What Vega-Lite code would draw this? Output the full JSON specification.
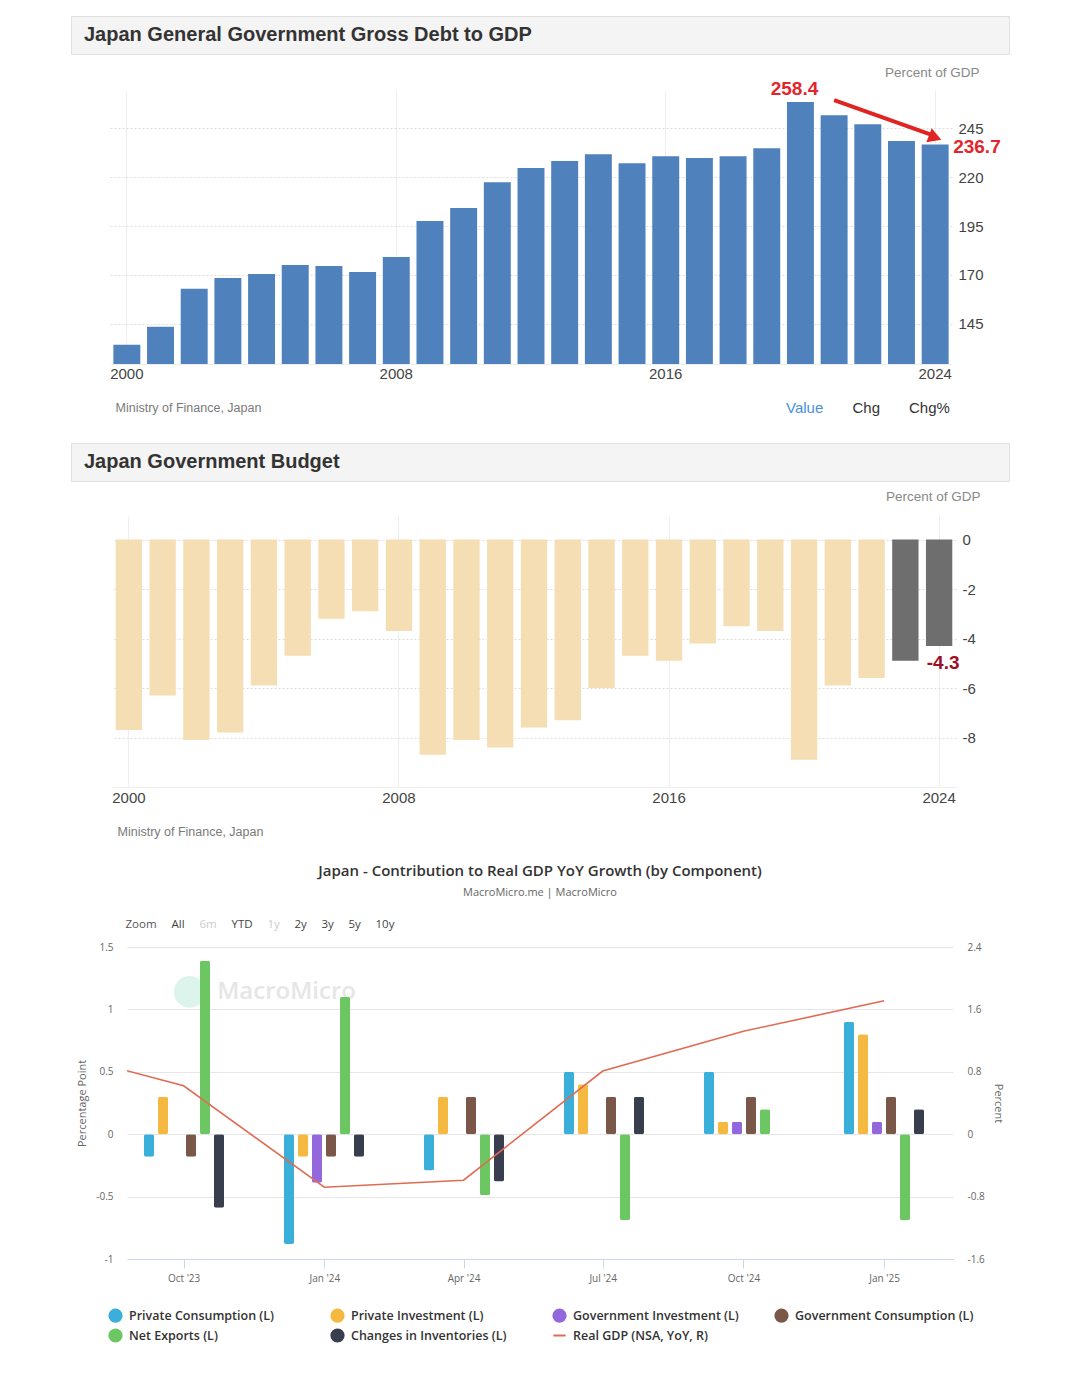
{
"$schema": "https://vega.github.io/schema/vega-lite/v6.json",
"background": "#ffffff",
"padding": {"left": 70, "top": 15, "right": 0, "bottom": 0},
"config": {"view": {"stroke": null}, "font": "Liberation Sans", "axis": {"labelFont": "Liberation Sans", "titleFont": "Liberation Sans"}},
"spacing": 26,
"resolve": {"scale": {"color": "independent", "shape": "independent", "strokeDash": "independent"}, "legend": {"color": "independent", "shape": "independent", "strokeDash": "independent"}},
"vconcat": [
 {"spacing": 10,
  "resolve": {"scale": {"color": "independent", "shape": "independent", "strokeDash": "independent"}, "legend": {"color": "independent", "shape": "independent", "strokeDash": "independent"}},
  "vconcat": [
   {"width": 938, "height": 38, "view": {"fill": "#f4f4f4", "stroke": "#e0e0e0"},
    "data": {"values": [{"title": "Japan General Government Gross Debt to GDP"}]},
    "mark": {"type": "text", "align": "left", "baseline": "middle", "dx": 13, "font": "Liberation Sans", "fontSize": 20, "fontWeight": "bold", "color": "#333333"},
    "encoding": {"x": {"field": "title", "type": "nominal", "scale": {"type": "point", "padding": 0, "align": 0}, "axis": null}, "text": {"field": "title"}}},
   {"spacing": 0,
    "resolve": {"scale": {"color": "independent", "shape": "independent", "strokeDash": "independent"}, "legend": {"color": "independent", "shape": "independent", "strokeDash": "independent"}},
    "hconcat": [
     {"width": 38, "height": 10, "data": {"values": [{}]}, "mark": {"type": "text", "text": ""}},
     {"width": 842, "height": 274,
      "layer": [
       {"data": {"values": [
         {"year": 2000, "value": 134.3}, {"year": 2001, "value": 143.5}, {"year": 2002, "value": 162.9}, {"year": 2003, "value": 168.5}, {"year": 2004, "value": 170.5},
         {"year": 2005, "value": 175.1}, {"year": 2006, "value": 174.6}, {"year": 2007, "value": 171.5}, {"year": 2008, "value": 179.2}, {"year": 2009, "value": 197.6},
         {"year": 2010, "value": 204.2}, {"year": 2011, "value": 217.4}, {"year": 2012, "value": 224.6}, {"year": 2013, "value": 228.2}, {"year": 2014, "value": 231.7},
         {"year": 2015, "value": 227.1}, {"year": 2016, "value": 230.7}, {"year": 2017, "value": 229.7}, {"year": 2018, "value": 230.7}, {"year": 2019, "value": 234.8},
         {"year": 2020, "value": 258.4}, {"year": 2021, "value": 251.6}, {"year": 2022, "value": 247.0}, {"year": 2023, "value": 238.4}, {"year": 2024, "value": 236.7}]},
        "mark": {"type": "bar", "color": "#4f81bd", "clip": true},
        "encoding": {
          "x": {"field": "year", "type": "ordinal", "scale": {"paddingInner": 0.2, "paddingOuter": 0.1},
            "axis": {"values": [2000, 2008, 2016, 2024], "labelAngle": 0, "labelFontSize": 15, "labelColor": "#444444", "labelPadding": 2, "ticks": false, "domain": true, "domainColor": "#eeeeee", "grid": true, "gridColor": "#eeeeee",
              "title": "Ministry of Finance, Japan", "titleAnchor": "start", "titleAlign": "left", "titleX": 5, "titleY": 43, "titleBaseline": "middle", "titleFontSize": 12.5, "titleFontWeight": "normal", "titleColor": "#7a7a7a"}},
          "y": {"field": "value", "type": "quantitative", "scale": {"domain": [124.5, 264.5], "zero": false, "nice": false},
            "axis": {"orient": "right", "values": [145, 170, 195, 220, 245], "labelExpr": "'' + datum.value", "labelFontSize": 15, "labelColor": "#444444", "labelPadding": 6, "ticks": false, "domain": false, "grid": true, "gridColor": "#dddddd", "gridDash": [2, 2],
              "title": "Percent of GDP", "titleAngle": 0, "titleAlign": "right", "titleX": 27, "titleY": -18, "titleBaseline": "middle", "titleFontSize": 13.5, "titleFontWeight": "normal", "titleColor": "#888888"}}
        }},
       {"data": {"values": [{"from_year": 2021, "to_year": 2024, "from_value": 259.3, "to_value": 240.9}]},
        "mark": {"type": "rule", "color": "#e02424", "strokeWidth": 4},
        "encoding": {"x": {"field": "from_year", "type": "ordinal"}, "x2": {"field": "to_year"}, "y": {"field": "from_value", "type": "quantitative"}, "y2": {"field": "to_value"}}},
       {"data": {"values": [{"year": 2024, "value": 240.2}]},
        "mark": {"type": "point", "shape": "triangle-right", "filled": true, "color": "#e02424", "size": 230, "angle": 20.5, "opacity": 1},
        "encoding": {"x": {"field": "year", "type": "ordinal"}, "y": {"field": "value", "type": "quantitative"}}},
       {"data": {"values": [{"year": 2020, "value": 258.4, "label": "258.4"}]},
        "mark": {"type": "text", "color": "#e3262b", "font": "Liberation Sans", "fontSize": 19, "fontWeight": "bold", "align": "center", "baseline": "bottom", "dy": -3, "dx": -6},
        "encoding": {"x": {"field": "year", "type": "ordinal"}, "y": {"field": "value", "type": "quantitative"}, "text": {"field": "label"}}},
       {"data": {"values": [{"year": 2024, "value": 236.7, "label": "236.7"}]},
        "mark": {"type": "text", "color": "#e3262b", "font": "Liberation Sans", "fontSize": 19, "fontWeight": "bold", "align": "left", "baseline": "middle", "dy": 3, "dx": 18},
        "encoding": {"x": {"field": "year", "type": "ordinal"}, "y": {"field": "value", "type": "quantitative"}, "text": {"field": "label"}}},
       {"data": {"values": [{"tab": "Value"}, {"tab": "Chg"}, {"tab": "Chg%"}]},
        "mark": {"type": "point", "opacity": 0},
        "encoding": {"shape": {"field": "tab", "type": "nominal", "sort": ["Value", "Chg", "Chg%"],
          "legend": {"orient": "none", "legendX": 661, "legendY": 310, "direction": "horizontal", "title": null, "symbolOpacity": 0, "symbolSize": 0, "labelOffset": 0, "labelFont": "Liberation Sans", "labelFontSize": 15, "columnPadding": 13.5, "gridAlign": "each",
            "labelColor": {"expr": "datum.label === 'Value' ? '#4a90d9' : '#333333'"}}}}}
      ]}
   ]}
 ]},
 {"spacing": 7,
  "resolve": {"scale": {"color": "independent", "shape": "independent", "strokeDash": "independent"}, "legend": {"color": "independent", "shape": "independent", "strokeDash": "independent"}},
  "vconcat": [
   {"width": 938, "height": 38, "view": {"fill": "#f4f4f4", "stroke": "#e0e0e0"},
    "data": {"values": [{"title": "Japan Government Budget"}]},
    "mark": {"type": "text", "align": "left", "baseline": "middle", "dx": 13, "font": "Liberation Sans", "fontSize": 20, "fontWeight": "bold", "color": "#333333"},
    "encoding": {"x": {"field": "title", "type": "nominal", "scale": {"type": "point", "padding": 0, "align": 0}, "axis": null}, "text": {"field": "title"}}},
   {"spacing": 0, "hconcat": [
     {"width": 40, "height": 10, "data": {"values": [{}]}, "mark": {"type": "text", "text": ""}},
     {"width": 844, "height": 271,
      "layer": [
       {"data": {"values": [
         {"year": 2000, "value": -7.7}, {"year": 2001, "value": -6.3}, {"year": 2002, "value": -8.1}, {"year": 2003, "value": -7.8}, {"year": 2004, "value": -5.9},
         {"year": 2005, "value": -4.7}, {"year": 2006, "value": -3.2}, {"year": 2007, "value": -2.9}, {"year": 2008, "value": -3.7}, {"year": 2009, "value": -8.7},
         {"year": 2010, "value": -8.1}, {"year": 2011, "value": -8.4}, {"year": 2012, "value": -7.6}, {"year": 2013, "value": -7.3}, {"year": 2014, "value": -6.0},
         {"year": 2015, "value": -4.7}, {"year": 2016, "value": -4.9}, {"year": 2017, "value": -4.2}, {"year": 2018, "value": -3.5}, {"year": 2019, "value": -3.7},
         {"year": 2020, "value": -8.9}, {"year": 2021, "value": -5.9}, {"year": 2022, "value": -5.6}, {"year": 2023, "value": -4.9}, {"year": 2024, "value": -4.3}]},
        "mark": {"type": "bar"},
        "encoding": {
          "x": {"field": "year", "type": "ordinal", "scale": {"paddingInner": 0.22, "paddingOuter": 0.11},
            "axis": {"values": [2000, 2008, 2016, 2024], "labelAngle": 0, "labelFontSize": 15, "labelColor": "#444444", "labelPadding": 3, "ticks": false, "domain": true, "domainColor": "#eeeeee", "grid": true, "gridColor": "#eeeeee",
              "title": "Ministry of Finance, Japan", "titleAnchor": "start", "titleAlign": "left", "titleX": 5, "titleY": 44, "titleBaseline": "middle", "titleFontSize": 12.5, "titleFontWeight": "normal", "titleColor": "#7a7a7a"}},
          "y": {"field": "value", "type": "quantitative", "scale": {"domain": [-10, 0.95], "nice": false},
            "axis": {"orient": "right", "values": [0, -2, -4, -6, -8], "labelExpr": "'' + datum.value", "labelFontSize": 15, "labelColor": "#444444", "labelPadding": 6, "ticks": false, "domain": false, "grid": true, "gridColor": "#dddddd", "gridDash": [2, 2],
              "title": "Percent of GDP", "titleAngle": 0, "titleAlign": "right", "titleX": 24, "titleY": -20, "titleBaseline": "middle", "titleFontSize": 13.5, "titleFontWeight": "normal", "titleColor": "#888888"}},
          "color": {"condition": {"test": "datum.year >= 2023", "value": "#6e6e6e"}, "value": "#f5deb3"}
        }},
       {"data": {"values": [{"year": 2024, "value": -4.3, "label": "-4.3"}]},
        "mark": {"type": "text", "color": "#9e0f26", "font": "Liberation Sans", "fontSize": 19, "fontWeight": "bold", "align": "center", "baseline": "top", "dy": 8, "dx": 4},
        "encoding": {"x": {"field": "year", "type": "ordinal"}, "y": {"field": "value", "type": "quantitative"}, "text": {"field": "label"}}}
      ]}
   ]}
 ]},
 {"spacing": 0,
  "resolve": {"scale": {"color": "independent", "shape": "independent", "strokeDash": "independent"}, "legend": {"color": "independent", "shape": "independent", "strokeDash": "independent"}},
  "hconcat": [
   {"width": 5, "height": 10, "data": {"values": [{}]}, "mark": {"type": "text", "text": ""}},
   {"width": 826, "height": 312,
    "title": {"text": "Japan - Contribution to Real GDP YoY Growth (by Component)", "subtitle": "MacroMicro.me | MacroMicro", "anchor": "middle", "frame": "group", "font": "Open Sans", "fontSize": 15, "fontWeight": 600, "color": "#333333", "subtitleFont": "Open Sans", "subtitleFontSize": 11, "subtitleColor": "#666666", "subtitlePadding": 8, "offset": 21},
    "resolve": {"scale": {"x": "independent", "y": "independent"}},
    "layer": [
     {"data": {"values": [{}]},
      "mark": {"type": "point", "shape": "circle", "filled": true, "color": "#dcf4ec", "size": 1000, "opacity": 1},
      "encoding": {"x": {"datum": {"year": 2023, "month": 10, "date": 5, "utc": true}, "type": "temporal", "scale": {"type": "utc", "domain": [{"year": 2023, "month": 8, "date": 25, "utc": true}, {"year": 2025, "month": 2, "date": 15, "utc": true}]}, "axis": null},
                   "y": {"datum": 1.14, "type": "quantitative", "scale": {"domain": [-1, 1.5], "nice": false}, "axis": null}}},
     {"data": {"values": [{"label": "MacroMicro"}]},
      "mark": {"type": "text", "font": "Open Sans", "fontSize": 24, "fontWeight": 600, "color": "#e6e6e6", "align": "left", "baseline": "middle"},
      "encoding": {"x": {"datum": {"year": 2023, "month": 10, "date": 23, "utc": true}, "type": "temporal", "scale": {"type": "utc", "domain": [{"year": 2023, "month": 8, "date": 25, "utc": true}, {"year": 2025, "month": 2, "date": 15, "utc": true}]}, "axis": null},
                   "y": {"datum": 1.14, "type": "quantitative", "scale": {"domain": [-1, 1.5], "nice": false}, "axis": null},
                   "text": {"field": "label"}}},
     {"data": {"values": [
        {"date": "2023-10-01", "series": "Private Consumption (L)", "value": -0.18},
        {"date": "2023-10-01", "series": "Private Investment (L)", "value": 0.3},
        {"date": "2023-10-01", "series": "Government Consumption (L)", "value": -0.18},
        {"date": "2023-10-01", "series": "Net Exports (L)", "value": 1.39},
        {"date": "2023-10-01", "series": "Changes in Inventories (L)", "value": -0.59},
        {"date": "2024-01-01", "series": "Private Consumption (L)", "value": -0.88},
        {"date": "2024-01-01", "series": "Private Investment (L)", "value": -0.18},
        {"date": "2024-01-01", "series": "Government Investment (L)", "value": -0.39},
        {"date": "2024-01-01", "series": "Government Consumption (L)", "value": -0.18},
        {"date": "2024-01-01", "series": "Net Exports (L)", "value": 1.1},
        {"date": "2024-01-01", "series": "Changes in Inventories (L)", "value": -0.18},
        {"date": "2024-04-01", "series": "Private Consumption (L)", "value": -0.29},
        {"date": "2024-04-01", "series": "Private Investment (L)", "value": 0.3},
        {"date": "2024-04-01", "series": "Government Consumption (L)", "value": 0.3},
        {"date": "2024-04-01", "series": "Net Exports (L)", "value": -0.49},
        {"date": "2024-04-01", "series": "Changes in Inventories (L)", "value": -0.38},
        {"date": "2024-07-01", "series": "Private Consumption (L)", "value": 0.5},
        {"date": "2024-07-01", "series": "Private Investment (L)", "value": 0.4},
        {"date": "2024-07-01", "series": "Government Consumption (L)", "value": 0.3},
        {"date": "2024-07-01", "series": "Net Exports (L)", "value": -0.69},
        {"date": "2024-07-01", "series": "Changes in Inventories (L)", "value": 0.3},
        {"date": "2024-10-01", "series": "Private Consumption (L)", "value": 0.5},
        {"date": "2024-10-01", "series": "Private Investment (L)", "value": 0.1},
        {"date": "2024-10-01", "series": "Government Investment (L)", "value": 0.1},
        {"date": "2024-10-01", "series": "Government Consumption (L)", "value": 0.3},
        {"date": "2024-10-01", "series": "Net Exports (L)", "value": 0.2},
        {"date": "2025-01-01", "series": "Private Consumption (L)", "value": 0.9},
        {"date": "2025-01-01", "series": "Private Investment (L)", "value": 0.8},
        {"date": "2025-01-01", "series": "Government Investment (L)", "value": 0.1},
        {"date": "2025-01-01", "series": "Government Consumption (L)", "value": 0.3},
        {"date": "2025-01-01", "series": "Net Exports (L)", "value": -0.69},
        {"date": "2025-01-01", "series": "Changes in Inventories (L)", "value": 0.2}]},
      "mark": {"type": "bar", "cornerRadius": 2},
      "encoding": {
        "x": {"field": "date", "type": "ordinal", "scale": {"paddingInner": 0.4, "paddingOuter": 0.15, "align": 0.357}, "axis": null},
        "xOffset": {"field": "series", "type": "nominal", "sort": ["Private Consumption (L)", "Private Investment (L)", "Government Investment (L)", "Government Consumption (L)", "Net Exports (L)", "Changes in Inventories (L)"], "scale": {"paddingInner": 0.28, "paddingOuter": 0.14}},
        "y": {"field": "value", "type": "quantitative", "scale": {"domain": [-1, 1.5], "nice": false},
          "axis": {"orient": "left", "values": [-1, -0.5, 0, 0.5, 1, 1.5], "labelExpr": "'' + datum.value", "labelFont": "Open Sans", "labelFontSize": 10, "labelColor": "#666666", "labelPadding": 14, "ticks": false, "domain": false, "grid": true, "gridColor": "#e6e6e6",
            "title": "Percentage Point", "titleFont": "Open Sans", "titleFontSize": 11, "titleFontWeight": "normal", "titleColor": "#666666", "titlePadding": 8}},
        "color": {"field": "series", "type": "nominal",
          "scale": {"domain": ["Private Consumption (L)", "Private Investment (L)", "Government Investment (L)", "Government Consumption (L)", "Net Exports (L)", "Changes in Inventories (L)", "Real GDP (NSA, YoY, R)"],
                    "range": ["#3aafda", "#f5b942", "#9368dc", "#7b574a", "#6cc763", "#393e4f", "#e06b53"]},
          "legend": {"orient": "none", "legendX": -19, "legendY": 361, "direction": "horizontal", "columns": 4, "title": null, "gridAlign": "all", "columnPadding": 19, "rowPadding": -1, "symbolSize": 150, "symbolType": "circle",
            "labelFont": "Open Sans", "labelFontSize": 12.5, "labelFontWeight": 600, "labelColor": "#333333", "labelOffset": 6, "labelLimit": 300,
            "encode": {"symbols": {"update": {
              "shape": {"signal": "datum.value === 'Real GDP (NSA, YoY, R)' ? 'stroke' : 'circle'"},
              "stroke": {"signal": "datum.value === 'Real GDP (NSA, YoY, R)' ? '#e06b53' : 'transparent'"},
              "strokeWidth": {"value": 2}}}}}}
      }},
     {"data": {"values": [
        {"date": "2023-07-01", "series": "Real GDP (NSA, YoY, R)", "value": 1.1},
        {"date": "2023-10-01", "series": "Real GDP (NSA, YoY, R)", "value": 0.62},
        {"date": "2024-01-01", "series": "Real GDP (NSA, YoY, R)", "value": -0.68},
        {"date": "2024-04-01", "series": "Real GDP (NSA, YoY, R)", "value": -0.59},
        {"date": "2024-07-01", "series": "Real GDP (NSA, YoY, R)", "value": 0.81},
        {"date": "2024-10-01", "series": "Real GDP (NSA, YoY, R)", "value": 1.32},
        {"date": "2025-01-01", "series": "Real GDP (NSA, YoY, R)", "value": 1.71}]},
      "mark": {"type": "line", "strokeWidth": 1.6, "clip": true},
      "encoding": {
        "x": {"field": "date", "type": "temporal", "scale": {"type": "utc", "domain": [{"year": 2023, "month": 8, "date": 25, "utc": true}, {"year": 2025, "month": 2, "date": 15, "utc": true}]},
          "axis": {"orient": "bottom", "format": "%b '%y", "tickCount": {"interval": "month", "step": 3}, "labelFont": "Open Sans", "labelFontSize": 10, "labelColor": "#666666", "labelPadding": 5, "tickSize": 9, "tickColor": "#ccd6eb", "domainColor": "#ccd6eb", "grid": false, "title": null}},
        "y": {"field": "value", "type": "quantitative", "scale": {"domain": [-1.6, 2.4], "nice": false},
          "axis": {"orient": "right", "values": [-1.6, -0.8, 0, 0.8, 1.6, 2.4], "labelExpr": "'' + datum.value", "labelFont": "Open Sans", "labelFontSize": 10, "labelColor": "#666666", "labelPadding": 14, "ticks": false, "domain": false, "grid": false,
            "title": "Percent", "titleFont": "Open Sans", "titleFontSize": 11, "titleFontWeight": "normal", "titleColor": "#666666", "titlePadding": 8}},
        "color": {"field": "series", "type": "nominal"}
      }},
     {"data": {"values": [{"btn": "Zoom"}, {"btn": "All"}, {"btn": "6m"}, {"btn": "YTD"}, {"btn": "1y"}, {"btn": "2y"}, {"btn": "3y"}, {"btn": "5y"}, {"btn": "10y"}]},
      "mark": {"type": "point", "opacity": 0},
      "encoding": {"strokeDash": {"field": "btn", "type": "nominal", "sort": ["Zoom", "All", "6m", "YTD", "1y", "2y", "3y", "5y", "10y"],
        "legend": {"orient": "none", "legendX": -13, "legendY": -28, "direction": "horizontal", "title": null, "symbolOpacity": 0, "symbolSize": 0, "symbolStrokeWidth": 0, "labelOffset": 0, "labelFont": "Open Sans", "labelFontSize": 11.5, "columnPadding": 3, "gridAlign": "each",
          "labelColor": {"expr": "datum.label === '6m' || datum.label === '1y' ? '#cccccc' : (datum.label === 'Zoom' ? '#555555' : '#444444')"}}}}}
    ]}
 ]}
]
}
